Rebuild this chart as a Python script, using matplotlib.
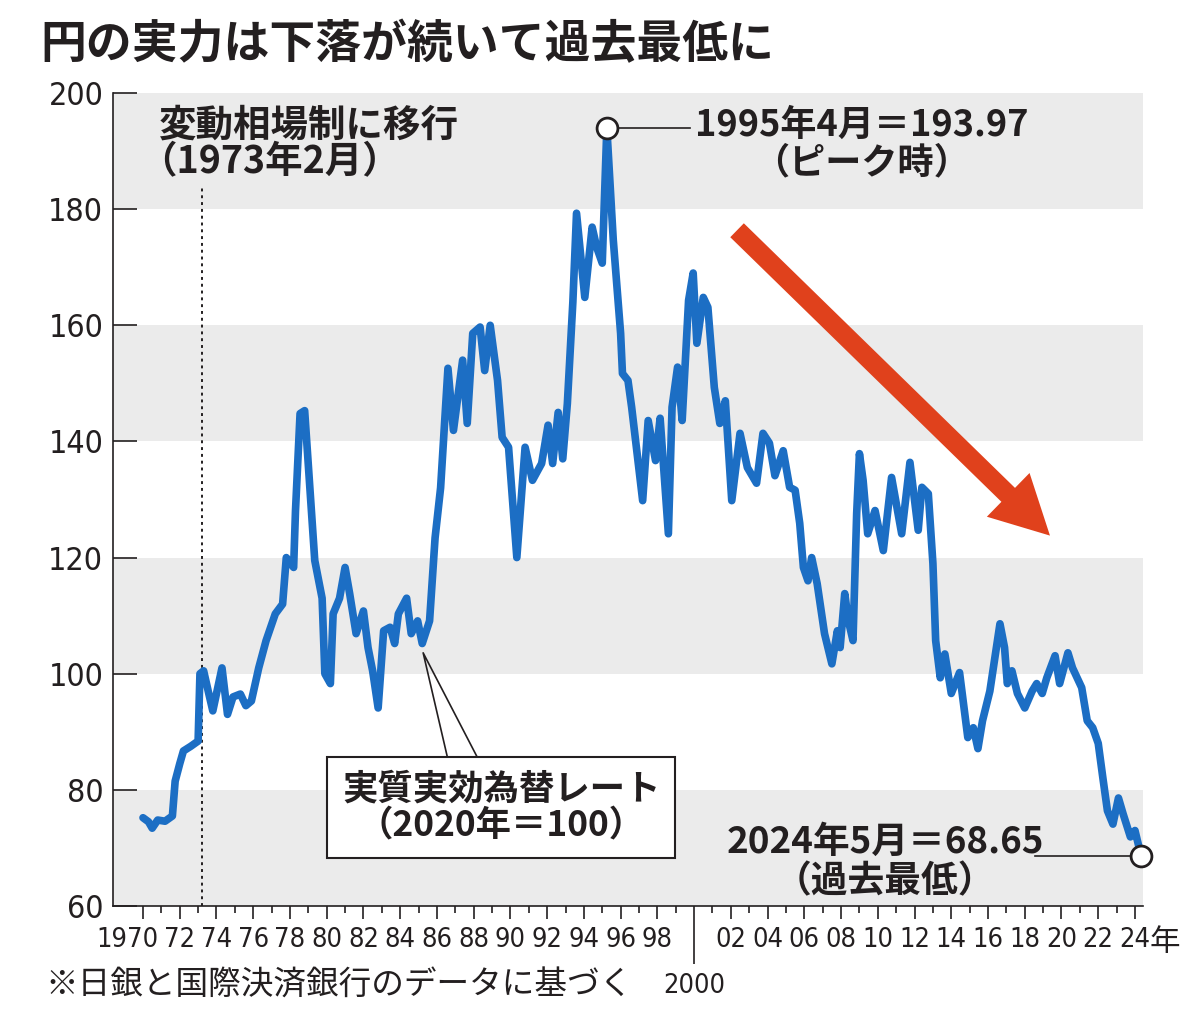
import matplotlib
matplotlib.use("Agg")
import matplotlib.pyplot as plt
import matplotlib.transforms as mtransforms
from matplotlib.patches import FancyArrowPatch
from matplotlib import font_manager
from matplotlib.font_manager import FontProperties

# ---------------- data ----------------
years = [
    1970.0, 1970.3, 1970.5, 1970.8, 1971.2, 1971.6, 1971.75, 1972.0, 1972.2, 1972.6,
    1973.0, 1973.1, 1973.3, 1973.55, 1973.8, 1974.3, 1974.6, 1974.9, 1975.3, 1975.6,
    1975.9, 1976.3, 1976.7, 1977.2, 1977.6, 1977.8, 1978.2, 1978.3, 1978.55, 1978.8,
    1979.0, 1979.35, 1979.75, 1979.9, 1980.2, 1980.35, 1980.7, 1981.0, 1981.25, 1981.6,
    1982.0, 1982.25, 1982.5, 1982.8, 1983.1, 1983.45, 1983.7, 1983.9, 1984.35, 1984.6,
    1984.95, 1985.2, 1985.6, 1985.9, 1986.2, 1986.45, 1986.6, 1986.9, 1987.4, 1987.65,
    1987.95, 1988.35, 1988.6, 1988.9, 1989.3, 1989.55, 1989.9, 1990.35, 1990.8, 1991.2,
    1991.7, 1992.05, 1992.3, 1992.6, 1992.85, 1993.1, 1993.4, 1993.6, 1994.05, 1994.45,
    1994.7, 1995.0, 1995.25, 1995.6, 1996.0, 1996.1, 1996.4, 1996.6, 1997.2, 1997.5,
    1997.9, 1998.15, 1998.6, 1998.8, 1999.1, 1999.35, 1999.7, 1999.95, 2000.15, 2000.5,
    2000.75, 2001.1, 2001.4, 2001.7, 2002.05, 2002.5, 2002.9, 2003.4, 2003.75, 2004.1,
    2004.4, 2004.85, 2005.2, 2005.5, 2005.75, 2005.95, 2006.2, 2006.4, 2006.7, 2007.1,
    2007.5, 2007.8, 2007.95, 2008.2, 2008.4, 2008.65, 2008.85, 2009.0, 2009.2, 2009.45,
    2009.85, 2010.3, 2010.75, 2011.3, 2011.75, 2012.2, 2012.4, 2012.75, 2013.0, 2013.15,
    2013.4, 2013.65, 2014.0, 2014.45, 2014.9, 2015.2, 2015.45, 2015.7, 2016.1, 2016.65,
    2016.9, 2017.05, 2017.3, 2017.6, 2018.0, 2018.4, 2018.65, 2018.95, 2019.2, 2019.65,
    2019.9, 2020.35, 2020.6, 2021.1, 2021.4, 2021.7, 2022.0, 2022.25, 2022.5, 2022.8,
    2023.1, 2023.35, 2023.75, 2024.0, 2024.33,
]
reer = [
    75.2, 74.5, 73.4, 74.8, 74.6, 75.5, 81.5, 84.5, 86.7, 87.5,
    88.4, 100.0, 100.5, 97.0, 93.6, 101.0, 93.0, 96.0, 96.5, 94.5,
    95.3, 101.0, 105.7, 110.3, 112.0, 120.0, 118.3, 128.0, 144.8, 145.3,
    136.0, 119.5, 113.0, 100.0, 98.3, 110.3, 113.0, 118.3, 113.8, 106.9,
    110.8, 104.5, 100.5, 94.1, 107.4, 108.0, 105.2, 110.3, 113.0, 106.9,
    109.1, 105.2, 109.1, 123.4, 132.0, 144.8, 152.6, 141.9, 154.0, 143.1,
    158.6, 159.7, 152.2, 160.0, 150.5, 140.7, 139.0, 120.0, 139.0, 133.3,
    136.2, 142.8, 136.2, 145.0, 137.0, 146.5, 164.0, 179.3, 164.8, 176.9,
    173.4, 170.7, 193.97, 174.7, 158.6, 151.7, 150.5, 145.9, 129.8, 143.6,
    136.7, 144.0, 124.1, 145.9, 152.8, 143.6, 164.3, 169.0, 156.9, 164.8,
    163.1, 149.3, 143.1, 147.0, 129.8, 141.4, 135.5, 132.8, 141.4, 139.7,
    134.1, 138.4, 132.1, 131.6, 125.9, 118.3, 116.0, 120.0, 115.5, 106.9,
    101.7, 107.4, 104.5, 113.8, 109.1, 105.7, 127.6, 137.9, 133.3, 124.1,
    128.1, 121.2, 133.8, 124.1, 136.4, 124.7, 132.1, 131.0, 119.0, 105.7,
    99.3, 103.4, 96.6, 100.2, 89.0, 90.7, 87.1, 91.9, 97.0, 108.6,
    104.5, 98.3, 100.5, 96.6, 94.1, 97.0, 98.3, 96.6, 99.3, 103.1,
    98.3, 103.6, 101.0, 97.6, 91.9, 90.7, 88.0, 82.1, 76.4, 74.1,
    78.6, 75.9, 71.9, 73.0, 68.65,
]
peak_year, peak_value = 1995.25, 193.97
low_year, low_value = 2024.33, 68.65
float_year = 1973.2

yticks = [60, 80, 100, 120, 140, 160, 180, 200]
major_years = list(range(1970, 2025, 2))
minor_years = list(range(1971, 2025, 2))
major_labels = ["1970", "72", "74", "76", "78", "80", "82", "84", "86", "88", "90",
                "92", "94", "96", "98", "", "02", "04", "06", "08", "10", "12",
                "14", "16", "18", "20", "22", "24"]

# ---------------- fonts ----------------
# look for a condensed / narrow face for the numerals
prefs = [("liberationsansnarrow-regular", 0.456), ("dejavusanscondensed.ttf", 0.572),
         ("robotocondensed-regular", 0.51), ("condensed-regular", 0.52),
         ("narrow", 0.47), ("condensed", 0.55)]
num_path, digit_w = None, 0.556
files = [f.fname for f in font_manager.fontManager.ttflist]
for key, w in prefs:
    hit = [p for p in files if key in p.lower().replace(" ", "")
           and "bold" not in p.lower() and "italic" not in p.lower()
           and "oblique" not in p.lower()]
    if hit:
        num_path, digit_w = hit[0], w
        break


def numfont(size):
    if num_path:
        return FontProperties(fname=num_path, size=size)
    return FontProperties(family="Liberation Sans", size=size)


# size so that a digit is about 15.5 px wide (capped so the height stays close)
NUM_SIZE = min(26.0, 15.5 / digit_w * 0.72)
YNUM_SIZE = min(28.0, NUM_SIZE * 1.18)

JP = ["Noto Sans CJK JP", "DejaVu Sans"]
plt.rcParams["font.family"] = JP
INK = "#231f20"
BLUE = "#1c6ec4"
RED = "#e0411c"

fig = plt.figure(figsize=(11.9, 10.22), dpi=100)
ax = fig.add_axes([113 / 1190, 1 - 906 / 1022, (1143 - 113) / 1190, (906 - 93) / 1022])

x0 = 1970 - 30 / 18.37
x1 = 1970 + 1000 / 18.37
ax.set_xlim(x0, x1)
ax.set_ylim(60, 200)

# grey bands
for lo in (60, 100, 140, 180):
    ax.axhspan(lo, lo + 20, color="#ebebeb", lw=0, zorder=0)

# line
ax.plot(years, reer, color=BLUE, lw=5.5, solid_joinstyle="round",
        solid_capstyle="round", zorder=3)

# floating exchange dotted line
ax.plot([float_year, float_year], [60, 184.0], color=INK, lw=1.4,
        ls=(0, (1.5, 2)), zorder=2)

# spines
for s in ("top", "right"):
    ax.spines[s].set_visible(False)
for s in ("left", "bottom"):
    ax.spines[s].set_linewidth(1.2)
    ax.spines[s].set_color(INK)

# y axis
ax.set_yticks(yticks)
ax.set_yticklabels([str(v) for v in yticks], fontproperties=numfont(YNUM_SIZE))
ax.tick_params(axis="y", direction="in", length=17, width=1.2, color=INK,
               pad=7, labelcolor=INK)

# x axis
ax.set_xticks(major_years)
ax.set_xticks(minor_years, minor=True)
ax.set_xticklabels(major_labels, fontproperties=numfont(NUM_SIZE))
ax.tick_params(axis="x", which="major", direction="out", length=9, width=1.2,
               color=INK, pad=6, labelcolor=INK)
ax.tick_params(axis="x", which="minor", direction="out", length=5, width=1.2,
               color=INK)
mt = ax.xaxis.get_major_ticks()
mt[major_years.index(2000)].tick1line.set_markersize(42)
lab0 = mt[0].label1
lab0.set_transform(lab0.get_transform() +
                   mtransforms.ScaledTranslation(-11 / 72, 0, fig.dpi_scale_trans))

# 年 after 24 and 2000 label
bt = mtransforms.blended_transform_factory(ax.transData, ax.transAxes)
ax.text(2024.8, -0.045, "年", transform=bt, ha="left", va="center",
        fontsize=22, color=INK, family=JP)
ax.text(2000, 1 - 986 / 1022, "2000",
        transform=mtransforms.blended_transform_factory(ax.transData, fig.transFigure),
        ha="center", va="center", color=INK, fontproperties=numfont(NUM_SIZE))

# markers
ax.plot([peak_year], [peak_value], marker="o", ms=15, mfc="white", mec=INK, mew=2.0,
        zorder=5, clip_on=False)
ax.plot([low_year], [low_value], marker="o", ms=15, mfc="white", mec=INK, mew=2.0,
        zorder=5, clip_on=False)

# annotation leader lines
ax.plot([peak_year, 1999.8], [peak_value, peak_value], color=INK, lw=1.2, zorder=4)
ax.plot([2018.55, low_year], [low_value, low_value], color=INK, lw=1.2, zorder=4)
ax.plot([1986.55, 1985.25, 1988.2], [85.9, 103.6, 85.6], color=INK, lw=1.2, zorder=4)

# annotations
bold = dict(fontweight="bold", color=INK, family=JP)
ax.text(1970.85, 194.5, "変動相場制に移行", ha="left", va="center", fontsize=27, **bold)
ax.text(1969.8, 188.1, "（1973年2月）", ha="left", va="center", fontsize=27, **bold)
ax.text(2009.1, 194.5, "1995年4月＝193.97", ha="center", va="center", fontsize=26, **bold)
ax.text(2009.1, 187.9, "（ピーク時）", ha="center", va="center", fontsize=26, **bold)
ax.text(2010.4, 71.0, "2024年5月＝68.65", ha="center", va="center", fontsize=26.5, **bold)
ax.text(2010.4, 64.2, "（過去最低）", ha="center", va="center", fontsize=26.5, **bold)
ax.text(1989.5, 77.0, "実質実効為替レート\n（2020年＝100）", ha="center", va="center",
        fontsize=25.5, linespacing=1.05, multialignment="center", zorder=6,
        bbox=dict(boxstyle="square,pad=0.42", fc="white", ec=INK, lw=1.5), **bold)

# red arrow
arr = FancyArrowPatch((2002.23, 176.7), (2019.48, 123.45),
                      arrowstyle="simple,head_width=44,head_length=42,tail_width=14",
                      mutation_scale=1, color=RED, lw=0, zorder=4)
ax.add_patch(arr)

# title and footer
fig.text(40 / 1190, 1 - 45 / 1022, "円の実力は下落が続いて過去最低に", ha="left", va="center",
         fontsize=33, fontweight="bold", color=INK, family=JP)
fig.text(45 / 1190, 1 - 986 / 1022, "※日銀と国際決済銀行のデータに基づく", ha="left", va="center",
         fontsize=23.5, color=INK, family=JP)

fig.savefig("out.png", dpi=100, facecolor="white")
